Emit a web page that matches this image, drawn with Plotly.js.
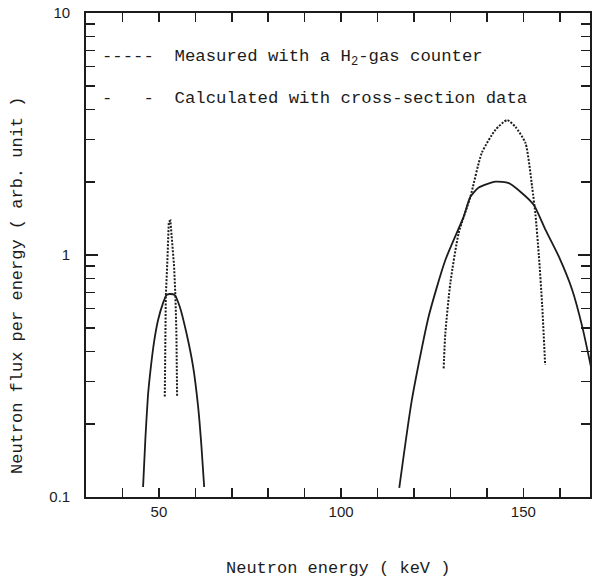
<!DOCTYPE html>
<html>
<head>
<meta charset="utf-8">
<script src="https://cdn.plot.ly/plotly-3.0.1.min.js"></script>
<style>html,body{margin:0;padding:0;background:#fff;}#chart{width:592px;height:578px;}</style>
</head>
<body>
<div id="chart"></div>
<script>
// Measured with a H2-gas counter (dotted)
const measLowEnergy = [51.62, 51.90, 52.34, 52.72, 53.16, 53.71, 54.18, 54.54, 54.81, 55.0];
const measLowFlux   = [0.260, 0.673, 0.953, 1.373, 1.386, 1.118, 0.895, 0.673, 0.475, 0.260];
const measHighEnergy = [128.14, 128.61, 129.98, 132.27, 135.48, 138.6, 142.36, 145.55, 147.86, 150.6, 152.42, 153.35, 154.26, 155.17, 155.99];
const measHighFlux   = [0.340, 0.476, 0.766, 1.233, 1.741, 2.64, 3.29, 3.61, 3.38, 2.9, 1.91, 1.46, 1.0, 0.621, 0.351];

// Calculated with cross-section data (solid)
const calcLowEnergy = [45.66, 46.3, 47.0, 47.8, 48.7, 49.78, 51.15, 52.06, 53.0, 54.37, 55.75, 57.56, 59.40, 60.78, 61.69, 62.43];
const calcLowFlux   = [0.110, 0.175, 0.262, 0.345, 0.440, 0.539, 0.634, 0.683, 0.690, 0.683, 0.610, 0.476, 0.345, 0.235, 0.161, 0.110];
const calcHighEnergy = [115.96, 119.42, 124.01, 128.61, 133.64, 135.48, 137.77, 142.36, 146.01, 149.67, 152.89, 156.1, 159.76, 163.42, 166.17, 168.56];
const calcHighFlux   = [0.109, 0.252, 0.556, 0.953, 1.44, 1.74, 1.90, 2.01, 1.98, 1.80, 1.61, 1.27, 0.984, 0.717, 0.506, 0.345];

// Axis ticks
const xTickVals = [50, 100, 150];
const xTickText = ['50', '100', '150'];
const xMinorVals = [40, 60, 70, 80, 90, 110, 120, 130, 140, 160];
const yTickVals = [0.1, 1, 10];
const yTickText = ['0.1', '1', '10'];
const yMinorVals = [0.2, 0.3, 0.4, 0.5, 0.6, 0.7, 0.8, 0.9, 2, 3, 4, 5, 6, 7, 8, 9];

const legendMeasured = '-----  Measured with a H<sub>2</sub>-gas counter';
const legendCalculated = '-   -  Calculated with cross-section data';
const xTitle = 'Neutron energy ( keV )';
const yTitle = 'Neutron flux per energy ( arb. unit )';

const ink = '#1c1c1c';
const mono = 'Liberation Mono, Courier New, monospace';
const sans = 'Liberation Sans, Arial, sans-serif';

const W = 592, H = 578;
const M = {l: 86, r: 2, t: 13, b: 81};
const pw = W - M.l - M.r, ph = H - M.t - M.b;
const px = v => (v - M.l) / pw;
const py = v => 1 - (v - M.t) / ph;

const traces = [
  {x: measLowEnergy, y: measLowFlux, mode: 'lines', line: {color: ink, width: 2, dash: '2px,1.5px'}, showlegend: false, hoverinfo: 'skip'},
  {x: measHighEnergy, y: measHighFlux, mode: 'lines', line: {color: ink, width: 2, dash: '2px,1.5px', shape: 'spline', smoothing: 0.6}, showlegend: false, hoverinfo: 'skip'},
  {x: calcLowEnergy, y: calcLowFlux, mode: 'lines', line: {color: ink, width: 1.8, shape: 'spline', smoothing: 0.5}, showlegend: false, hoverinfo: 'skip'},
  {x: calcHighEnergy, y: calcHighFlux, mode: 'lines', line: {color: ink, width: 1.8, shape: 'spline', smoothing: 0.6}, showlegend: false, hoverinfo: 'skip'}
];

const axisCommon = {
  showgrid: false, zeroline: false, showline: true, linecolor: ink, linewidth: 1.8,
  ticks: 'inside', tickcolor: ink, tickwidth: 1.5, mirror: 'ticks',
  tickfont: {family: sans, size: 15, color: ink}
};

const layout = {
  width: W, height: H,
  margin: M,
  paper_bgcolor: '#fff', plot_bgcolor: '#fff',
  showlegend: false,
  xaxis: Object.assign({}, axisCommon, {
    range: [30, 168.3], tickmode: 'array', tickvals: xTickVals, ticktext: xTickText,
    ticklen: 9, ticklabelstandoff: 0,
    minor: {tickmode: 'array', tickvals: xMinorVals, ticks: 'inside', ticklen: 9, tickwidth: 1.5, tickcolor: ink, showgrid: false}
  }),
  yaxis: Object.assign({}, axisCommon, {
    type: 'log', range: [-1, 1], tickmode: 'array', tickvals: yTickVals, ticktext: yTickText,
    ticklen: 12, ticklabelstandoff: 11,
    minor: {tickmode: 'array', tickvals: yMinorVals, ticks: 'inside', ticklen: 9, tickwidth: 1.5, tickcolor: ink, showgrid: false}
  }),
  annotations: [
    {xref: 'paper', yref: 'paper', x: px(100), y: py(58), xanchor: 'left', yanchor: 'middle', showarrow: false,
     text: legendMeasured, font: {family: mono, size: 17.3, color: ink}},
    {xref: 'paper', yref: 'paper', x: px(100), y: py(98), xanchor: 'left', yanchor: 'middle', showarrow: false,
     text: legendCalculated, font: {family: mono, size: 17.3, color: ink}},
    {xref: 'paper', yref: 'paper', x: 0.5, y: py(568), xanchor: 'center', yanchor: 'middle', showarrow: false,
     text: xTitle, font: {family: mono, size: 17, color: ink}},
    {xref: 'paper', yref: 'paper', x: px(17), y: py(286), xanchor: 'center', yanchor: 'middle', showarrow: false,
     textangle: -90, text: yTitle, font: {family: mono, size: 17, color: ink}}
  ]
};

Plotly.newPlot('chart', traces, layout, {staticPlot: true, displayModeBar: false});
</script>
</body>
</html>
